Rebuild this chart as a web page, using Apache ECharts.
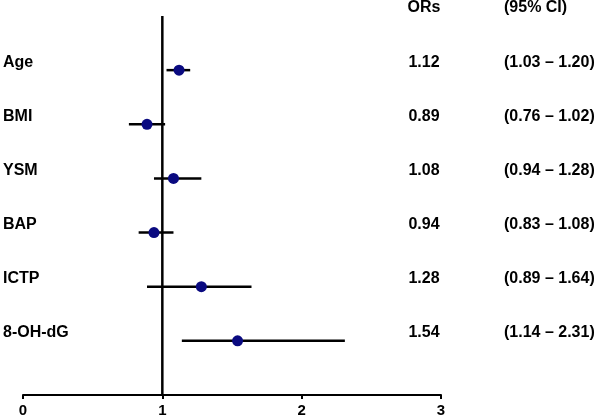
<!DOCTYPE html>
<html><head><meta charset="utf-8">
<script src="https://cdn.jsdelivr.net/npm/echarts@6/dist/echarts.min.js"></script>
<style>html,body{margin:0;padding:0;background:#fff}#c{width:600px;height:418px}</style>
</head><body><div id="c"></div>
<script>
const categories = ['Age', 'BMI', 'YSM', 'BAP', 'ICTP', '8-OH-dG'];
const ors = [1.12, 0.89, 1.08, 0.94, 1.28, 1.54];
const ciLow = [1.03, 0.76, 0.94, 0.83, 0.89, 1.14];
const ciHigh = [1.20, 1.02, 1.28, 1.08, 1.64, 2.31];
const headers = ['ORs', '(95% CI)'];
const refValue = 1;

const FONT = 'Liberation Sans, Arial, sans-serif';
const chart = echarts.init(document.getElementById('c'), null, {renderer: 'canvas'});

const nRows = categories.length;
const barData = categories.map((c, i) => [ors[i], i + 1, ciLow[i], ciHigh[i]]);
const pointData = categories.map((c, i) => [ors[i], i + 1]);
const textRows = [];
for (let r = 0; r <= nRows; r++) textRows.push([0, r]);

function rowTexts(idx) {
  if (idx === 0) return ['', headers[0], headers[1]];
  const i = idx - 1;
  return [categories[i], ors[i].toFixed(2), '(' + ciLow[i].toFixed(2) + ' \u2013 ' + ciHigh[i].toFixed(2) + ')'];
}

const txtStyle = {fill: '#000', fontFamily: FONT, fontWeight: 'bold', fontSize: 16, textVerticalAlign: 'middle'};

chart.setOption({
  animation: false,
  backgroundColor: '#fff',
  grid: {left: 23, right: 159, top: 16, bottom: 23},
  xAxis: {
    type: 'value', min: 0, max: 3, interval: 1, position: 'bottom',
    axisLine: {show: true, onZero: false, lineStyle: {color: '#000', width: 2}},
    axisTick: {show: true, length: 4, lineStyle: {color: '#000', width: 2}},
    axisLabel: {color: '#000', fontFamily: FONT, fontWeight: 'bold', fontSize: 15, margin: 8},
    splitLine: {show: false}
  },
  yAxis: {
    type: 'value', min: 0, max: nRows + 1, inverse: true, show: false
  },
  series: [
    {
      type: 'line', data: [[refValue, 0], [refValue, nRows + 1]],
      symbol: 'none', lineStyle: {color: '#000', width: 2.5}, z: 1, silent: true
    },
    {
      type: 'custom', data: barData, encode: {x: 0, y: 1}, z: 2, clip: false,
      renderItem: function (params, api) {
        const y = api.value(1);
        const p1 = api.coord([api.value(2), y]);
        const p2 = api.coord([api.value(3), y]);
        return {type: 'line', shape: {x1: p1[0], y1: p1[1], x2: p2[0], y2: p2[1]},
                style: {stroke: '#000', lineWidth: 2.5}};
      }
    },
    {
      type: 'scatter', data: pointData, symbolSize: 11, z: 3,
      itemStyle: {color: '#0a0a80', opacity: 1}
    },
    {
      type: 'custom', data: textRows, encode: {x: 0, y: 1}, z: 4, clip: false,
      renderItem: function (params, api) {
        const t = rowTexts(params.dataIndex);
        const y = api.coord([0, api.value(1)])[1] - 8;
        return {type: 'group', children: [
          {type: 'text', style: Object.assign({}, txtStyle, {text: t[0], x: 3, y: y, textAlign: 'left'})},
          {type: 'text', style: Object.assign({}, txtStyle, {text: t[1], x: 424, y: y, textAlign: 'center'})},
          {type: 'text', style: Object.assign({}, txtStyle, {text: t[2], x: 504, y: y, textAlign: 'left'})}
        ]};
      }
    }
  ]
});
</script>
</body></html>
